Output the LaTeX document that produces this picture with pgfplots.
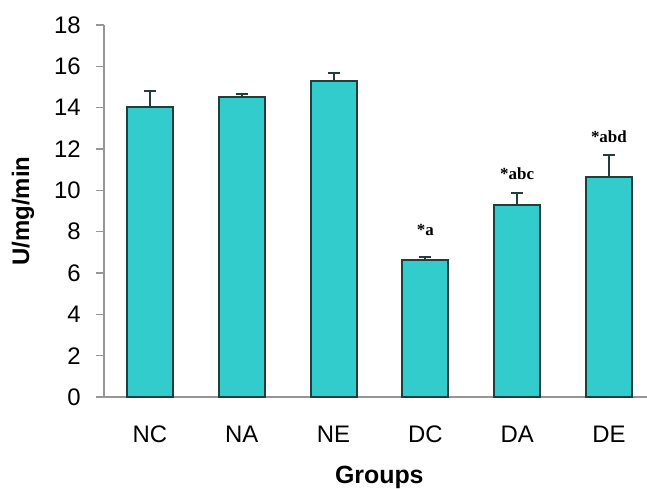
\documentclass[border=0pt]{standalone}
\usepackage{fontspec}
\setmainfont{Liberation Sans}
\newfontfamily\serifb{Liberation Serif}
\usepackage{pgfplots}
\pgfplotsset{compat=1.18}
\definecolor{barfill}{RGB}{51,204,204}
\definecolor{baredge}{RGB}{35,60,60}
\definecolor{axgray}{RGB}{150,150,150}
\begin{document}
\begin{tikzpicture}
\path[use as bounding box] (-52bp,-46bp) rectangle (271.5bp,198.5bp);
\begin{axis}[
  at={(0,0)}, anchor=south west,
  scale only axis, width=271.5bp, height=186bp,
  xmin=-0.5, xmax=5.415, ymin=0, ymax=18,
  axis x line*=bottom, axis y line*=left,
  axis line style={axgray, line width=0.6bp},
  tick align=outside,
  major tick length=4bp,
  tick style={axgray, line width=0.6bp},
  ytick={0,2,...,18},
  xtick={0,1,2,3,4,5},
  xticklabels={NC,NA,NE,DC,DA,DE},
  x tick style={draw=none},
  extra x ticks={-0.5,0.5,1.5,2.5,3.5,4.5},
  extra x tick labels={},
  extra x tick style={tick style={draw=axgray, line width=0.6bp}, major tick length=4.5bp},
  /pgf/number format/assume math mode=true,
  ticklabel style={font=\fontsize{12}{14}\selectfont},
  yticklabel style={anchor=east, inner sep=0pt, xshift=-7.5bp},
  xticklabel style={anchor=north, inner sep=0pt, text height=8.6bp, text depth=0pt, yshift=-10bp},
  ylabel={U/mg/min},
  ylabel style={font=\bfseries\fontsize{12}{14}\selectfont, at={(axis description cs:-0.1492,0.5)}, anchor=center},
  xlabel={Groups},
  xlabel style={font=\bfseries\fontsize{12.5}{14}\selectfont, at={(axis description cs:0.507,-0.232)}, anchor=base},
  clip=false,
]
\addplot[ybar, bar width=23bp, fill=barfill, draw=baredge, line width=1bp,
  error bars/.cd, y dir=plus, y explicit,
  error bar style={line width=1bp, baredge},
  error mark options={rotate=90, mark size=3bp, line width=1bp, baredge}]
  coordinates {
  (0,14.04) +- (0,0.78)
  (1,14.50) +- (0,0.17)
  (2,15.30) +- (0,0.37)
  (3,6.63) +- (0,0.13)
  (4,9.27) +- (0,0.61)
  (5,10.66) +- (0,1.05)
  };
\node[font=\serifb\bfseries\fontsize{8.5}{10}\selectfont] at (axis cs:3,8.08) {*a};
\node[font=\serifb\bfseries\fontsize{8.5}{10}\selectfont] at (axis cs:4,10.82) {*abc};
\node[font=\serifb\bfseries\fontsize{8.5}{10}\selectfont] at (axis cs:5,12.58) {*abd};
\end{axis}
\end{tikzpicture}
\end{document}
